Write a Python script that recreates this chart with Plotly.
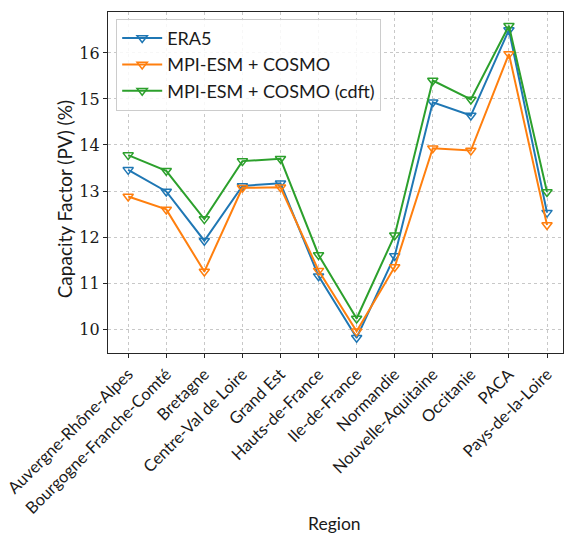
import plotly.graph_objects as go

regions = ["Auvergne-Rhône-Alpes", "Bourgogne-Franche-Comté", "Bretagne",
           "Centre-Val de Loire", "Grand Est", "Hauts-de-France", "Ile-de-France",
           "Normandie", "Nouvelle-Aquitaine", "Occitanie", "PACA", "Pays-de-la-Loire"]

era5 = [13.46, 12.99, 11.92, 13.11, 13.17, 11.15, 9.81, 11.59, 14.93, 14.64, 16.50, 12.53]
mpi_cosmo = [12.88, 12.60, 11.25, 13.07, 13.08, 11.27, 9.95, 11.35, 13.93, 13.88, 15.98, 12.26]
mpi_cosmo_cdft = [13.78, 13.44, 12.39, 13.65, 13.70, 11.61, 10.23, 12.04, 15.40, 14.99, 16.59, 12.98]

series = [
    ("ERA5", era5, "#1f77b4"),
    ("MPI-ESM + COSMO", mpi_cosmo, "#ff7f0e"),
    ("MPI-ESM + COSMO (cdft)", mpi_cosmo_cdft, "#2ca02c"),
]

SANS = "Lato"
SERIF = "DejaVu Serif"
TXT = "#1a1a1a"
idx = list(range(len(regions)))

fig = go.Figure()
for name, vals, color in series:
    fig.add_trace(go.Scatter(
        x=idx, y=vals, name=name, mode="lines+markers",
        line=dict(color=color, width=2),
        marker=dict(symbol="triangle-down-open", size=9, color=color,
                    line=dict(width=1.5, color=color)),
    ))

axis_common = dict(
    showline=True, linecolor="#262626", linewidth=1.2, mirror=True,
    ticks="outside", ticklen=4, tickcolor="#262626",
    showgrid=True, gridcolor="#c8c8c8", griddash="dot", gridwidth=1,
    zeroline=False, automargin=False,
)

fig.update_layout(
    width=564, height=541,
    margin=dict(l=108, r=1, t=12, b=188),
    paper_bgcolor="white", plot_bgcolor="white",
    font=dict(family=SANS, color=TXT),
    xaxis=dict(
        **axis_common,
        tickmode="array", tickvals=idx, ticktext=regions, tickangle=-45,
        tickfont=dict(family=SANS, size=16.5, color=TXT),
        ticklabeloverflow="allow",
        range=[-0.53, 11.42],
    ),
    yaxis=dict(
        **axis_common,
        range=[9.48, 16.89],
        tickvals=[10, 11, 12, 13, 14, 15, 16],
        tickfont=dict(family=SERIF, size=16, color=TXT),
    ),
    legend=dict(
        x=0.018, y=0.98, xanchor="left", yanchor="top",
        bgcolor="rgba(255,255,255,0.85)", bordercolor="#cccccc", borderwidth=1,
        font=dict(family=SANS, size=18),
        itemwidth=40, tracegroupgap=0,
    ),
    showlegend=True,
)

# axis titles placed as paper-anchored labels
fig.add_annotation(text="Region", xref="paper", yref="paper",
                   x=0.497, y=-0.5, xanchor="center", yanchor="middle",
                   showarrow=False, font=dict(family=SANS, size=17.5, color=TXT))
fig.add_annotation(text="Capacity Factor (PV) (%)", xref="paper", yref="paper",
                   x=-0.095, y=0.45, xanchor="center", yanchor="middle", textangle=-90,
                   showarrow=False, font=dict(family=SANS, size=19, color=TXT))

fig.write_html("out.html")
